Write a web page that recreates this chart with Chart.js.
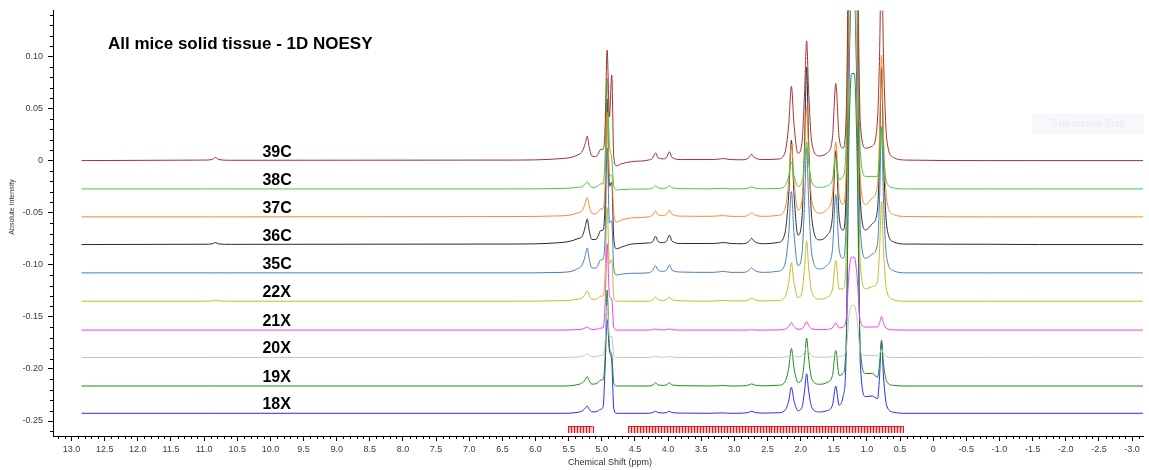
<!DOCTYPE html>
<html>
<head>
<meta charset="utf-8">
<title>All mice solid tissue - 1D NOESY</title>
<script src="https://cdn.jsdelivr.net/npm/chart.js@4.4.0/dist/chart.umd.min.js"></script>
<style>
    html, body { margin: 0; padding: 0; background: #fff; }
    #wrap { width: 1149px; height: 470px; }
</style>
</head>
<body>
<div id="wrap"><canvas id="nmrChart" width="1149" height="470"></canvas></div>
<script>
/** chemical shift grid (ppm), shared by all spectra */
var shifts = [12.85, 11.00, 10.88, 10.83, 10.78, 10.60, 6.40, 5.60, 5.36, 5.29,
    5.25, 5.22, 5.19, 5.15, 5.09, 5.05, 5.02, 4.98, 4.95, 4.92,
    4.885, 4.85, 4.82, 4.78, 4.70, 4.55, 4.30, 4.23, 4.19, 4.15,
    4.07, 4.02, 3.98, 3.94, 3.80, 3.40, 3.22, 3.18, 3.05, 2.86,
    2.78, 2.74, 2.70, 2.55, 2.34, 2.24, 2.18, 2.14, 2.10, 2.04,
    1.98, 1.94, 1.91, 1.88, 1.83, 1.72, 1.60, 1.52, 1.47, 1.42,
    1.36, 1.31, 1.27, 1.23, 1.19, 1.15, 1.10, 1.02, 0.92, 0.84,
    0.81, 0.78, 0.75, 0.70, 0.60, 0.40, -0.80, -1.60, -3.17]

var sampleNames = ['39C', '38C', '37C', '36C', '35C', '22X', '21X', '20X', '19X', '18X']
/** stacked baseline of each spectrum */
var baseOffsets = [0, -0.0272, -0.054, -0.0806, -0.1078, -0.135, -0.1627, -0.189, -0.2164, -0.2426]
var lineColors = ['#a33232', '#3fcf3f', '#ff8a2a', '#2b2b2b', '#4a7fc0', '#c2bd2a', '#f03cf0', '#c4c4c4', '#1a8f1a', '#2a2af5']

/** intensities above own baseline */
var s39C = [0, 0.0005, 0.001, 0.003, 0.001, 0.0003, 0.0005, 0.002, 0.0055, 0.0095,
    0.0165, 0.0236, 0.013, 0.0045, 0.0039, 0.0072, 0.0105, 0.011, 0.032, 0.106,
    0.042, 0.082, 0.004, -0.005, -0.003, -0.001, 0.0005, 0.0026, 0.0075, 0.0026,
    0.0017, 0.0034, 0.0085, 0.003, 0.001, 0.001, 0.0015, 0.002, 0.001, 0.0008,
    0.003, 0.006, 0.003, 0.001, 0.0015, 0.0071, 0.0343, 0.0714, 0.0343, 0.007,
    0.0173, 0.0667, 0.115, 0.0667, 0.0161, 0.0045, 0.0074, 0.0222, 0.074, 0.0222,
    0.012, 0.051, 0.24, 0.3, 0.3, 0.225, 0.036, 0.012, 0.014, 0.04,
    0.1, 0.2, 0.1, 0.02, 0.003, 0.0005, 0, 0, 0]
var s38C = [0, 0, 0, 0, 0, 0, 0, 0.0005, 0.0015, 0.0025,
    0.0049, 0.007, 0.0039, 0.0014, 0.0018, 0.0033, 0.0048, 0.005, 0.032, 0.106,
    0.042, 0.03, 0.003, -0.001, -0.0006, -0.0002, 0, 0.001, 0.003, 0.001,
    0.0006, 0.0012, 0.003, 0.001, 0.0003, 0, 0.0005, 0.0005, 0, 0.0002,
    0.001, 0.002, 0.001, 0.0002, 0.0005, 0.0026, 0.0125, 0.026, 0.0125, 0.0025,
    0.0068, 0.0261, 0.045, 0.0261, 0.0063, 0.0015, 0.003, 0.009, 0.03, 0.009,
    0.012, 0.051, 0.24, 0.3, 0.3, 0.225, 0.036, 0.012, 0.012, 0.012,
    0.03, 0.06, 0.03, 0.006, 0.001, 0, 0, 0, 0]
var s37C = [0, 0, 0, 0, 0, 0, 0.0003, 0.001, 0.0038, 0.0065,
    0.013, 0.0185, 0.0102, 0.0037, 0.0028, 0.0052, 0.0076, 0.008, 0.03, 0.1,
    0.04, 0.04, 0.004, -0.005, -0.003, -0.001, 0, 0.0019, 0.0055, 0.0019,
    0.0012, 0.0026, 0.0065, 0.0023, 0.0007, 0.0005, 0.001, 0.0012, 0.0005, 0.0004,
    0.002, 0.004, 0.002, 0.0005, 0.0014, 0.007, 0.0336, 0.07, 0.0336, 0.0065,
    0.0158, 0.0609, 0.105, 0.0609, 0.0147, 0.0036, 0.0072, 0.0216, 0.072, 0.0216,
    0.012, 0.051, 0.24, 0.3, 0.3, 0.225, 0.036, 0.012, 0.018, 0.031,
    0.0775, 0.155, 0.0775, 0.0155, 0.0023, 0.0003, 0, 0, 0]
var s36C = [0, 0.0003, 0.0006, 0.002, 0.0006, 0.0002, 0.0005, 0.002, 0.0057, 0.0086,
    0.0172, 0.0245, 0.0135, 0.0049, 0.0049, 0.0091, 0.0133, 0.014, 0.042, 0.14,
    0.056, 0.06, 0.006, -0.004, -0.0024, 0.0005, 0.0015, 0.0028, 0.008, 0.0028,
    0.0018, 0.0036, 0.009, 0.0032, 0.001, 0.001, 0.0015, 0.002, 0.001, 0.0008,
    0.003, 0.006, 0.003, 0.0008, 0.002, 0.01, 0.048, 0.1, 0.048, 0.009,
    0.0255, 0.0986, 0.17, 0.0986, 0.0238, 0.0045, 0.009, 0.027, 0.09, 0.027,
    0.014, 0.06, 0.28, 0.35, 0.35, 0.26, 0.042, 0.014, 0.02, 0.034,
    0.085, 0.17, 0.085, 0.017, 0.0026, 0.0005, 0.0003, 0, 0]
var s35C = [0, 0, 0, 0, 0, 0, 0, 0.0005, 0.0041, 0.0084,
    0.0168, 0.024, 0.0132, 0.0048, 0.0046, 0.0085, 0.0124, 0.013, 0.036, 0.12,
    0.048, 0.05, 0.005, -0.002, -0.0012, -0.0004, 0, 0.0025, 0.007, 0.0025,
    0.0015, 0.003, 0.0075, 0.0026, 0.0008, 0.0005, 0.001, 0.0015, 0.0005, 0.0005,
    0.0025, 0.005, 0.0025, 0.0005, 0.0016, 0.0078, 0.0374, 0.078, 0.0374, 0.007,
    0.018, 0.0696, 0.12, 0.0696, 0.0168, 0.0038, 0.0075, 0.0225, 0.075, 0.0225,
    0.014, 0.06, 0.28, 0.35, 0.35, 0.26, 0.042, 0.014, 0.018, 0.028,
    0.07, 0.14, 0.07, 0.014, 0.0021, 0, 0, 0, 0]
var s22X = [0, 0, 0.0003, 0.001, 0.0003, 0, 0, 0.0005, 0.002, 0.0035,
    0.007, 0.01, 0.0055, 0.002, 0.0018, 0.0033, 0.0048, 0.005, 0.027, 0.09,
    0.036, 0.04, 0.004, 0, 0, 0, 0, 0.0014, 0.004, 0.0014,
    0.0008, 0.0016, 0.004, 0.0014, 0.0004, 0, 0.0005, 0.0008, 0.0003, 0.0003,
    0.0015, 0.003, 0.0015, 0.0003, 0.0007, 0.0037, 0.0178, 0.037, 0.0178, 0.0035,
    0.0087, 0.0336, 0.058, 0.0336, 0.0081, 0.002, 0.0039, 0.0117, 0.039, 0.0117,
    0.012, 0.051, 0.24, 0.3, 0.3, 0.225, 0.036, 0.012, 0.014, 0.019,
    0.048, 0.096, 0.048, 0.0096, 0.0014, 0, 0, 0, 0]
var s21X = [0, 0, 0, 0, 0, 0, 0, 0, 0.0005, 0.001,
    0.0021, 0.003, 0.0017, 0.0006, 0.0007, 0.0013, 0.0019, 0.002, 0.025, 0.083,
    0.033, 0.03, 0.003, 0, 0, 0, 0, 0.0004, 0.001, 0.0004,
    0.0002, 0.0004, 0.001, 0.0004, 0, 0, 0, 0, 0, 0,
    0, 0.0005, 0, 0, 0.0002, 0.0007, 0.0034, 0.007, 0.0034, 0.0008,
    0.0012, 0.0046, 0.008, 0.0046, 0.0011, 0.0004, 0.0007, 0.0021, 0.007, 0.0021,
    0.0028, 0.012, 0.056, 0.07, 0.07, 0.052, 0.0084, 0.0028, 0.003, 0.003,
    0.0065, 0.013, 0.0065, 0.0013, 0.0002, 0, 0, 0, 0]
var s20X = [0, 0, 0, 0, 0, 0, 0, 0, 0.0005, 0.0012,
    0.0025, 0.0035, 0.0019, 0.0007, 0.0007, 0.0013, 0.0019, 0.002, 0.015, 0.05,
    0.02, 0.02, 0.002, 0, 0, 0, 0, 0.0004, 0.001, 0.0004,
    0.0002, 0.0004, 0.001, 0.0004, 0, 0, 0, 0, 0, 0,
    0, 0, 0, 0, 0, 0.0003, 0.0014, 0.003, 0.0014, 0.0006,
    0.0015, 0.0058, 0.01, 0.0058, 0.0014, 0.0002, 0.0003, 0.0009, 0.003, 0.0009,
    0.002, 0.0085, 0.04, 0.05, 0.05, 0.037, 0.006, 0.002, 0.002, 0.0016,
    0.004, 0.008, 0.004, 0.0008, 0, 0, 0, 0, 0]
var s19X = [0, 0, 0, 0, 0, 0, 0, 0, 0.0014, 0.0032,
    0.0063, 0.009, 0.005, 0.0018, 0.0021, 0.0039, 0.0057, 0.006, 0.028, 0.092,
    0.037, 0.03, 0.003, 0, 0, 0, 0, 0.001, 0.003, 0.001,
    0.0006, 0.0012, 0.003, 0.001, 0.0003, 0, 0.0003, 0.0005, 0, 0.0002,
    0.001, 0.002, 0.001, 0.0002, 0.0007, 0.0036, 0.0173, 0.036, 0.0173, 0.0034,
    0.0069, 0.0267, 0.046, 0.0267, 0.0064, 0.0017, 0.0034, 0.0102, 0.034, 0.0102,
    0.012, 0.051, 0.24, 0.3, 0.3, 0.225, 0.036, 0.012, 0.012, 0.0084,
    0.021, 0.042, 0.021, 0.0042, 0.0006, 0, 0, 0, 0]
var s18X = [0, 0, 0, 0, 0, 0, 0, 0, 0.001, 0.0025,
    0.0049, 0.007, 0.0039, 0.0014, 0.0014, 0.0026, 0.0038, 0.006, 0.045, 0.09,
    0.06, 0.05, 0.005, 0, 0, 0, 0, 0.0007, 0.002, 0.0007,
    0.0004, 0.0008, 0.002, 0.0007, 0.0002, 0, 0.0003, 0.0004, 0, 0.0002,
    0.001, 0.002, 0.001, 0.0002, 0.0005, 0.0025, 0.012, 0.025, 0.012, 0.0025,
    0.0057, 0.022, 0.038, 0.022, 0.0053, 0.0013, 0.0026, 0.0078, 0.026, 0.0078,
    0.016, 0.068, 0.32, 0.4, 0.4, 0.3, 0.048, 0.016, 0.0166, 0.014,
    0.035, 0.07, 0.035, 0.007, 0.001, 0, 0, 0, 0]
var intensities = [s39C, s38C, s37C, s36C, s35C, s22X, s21X, s20X, s19X, s18X]

/** axis ranges and the bucket (binning) regions drawn in red */
var ppmRange = [-3.165, 13.28]
var intensityRange = [-0.2644, 0.1442]
var bucketRanges = [[5.51, 5.14], [4.60, 0.46]]
var bucketWidth = 0.045
var chartTitle = 'All mice solid tissue - 1D NOESY'

var FONT = '"Liberation Sans", Arial, sans-serif'

var noesy = {
    chart: null,
    init: function () {
        noesy.funcs.createChart(noesy.funcs.buildDatasets())
    },
    funcs: {
        buildDatasets: function () {
            var datasets = []
            intensities.forEach(function (values, i) {
                var points = []
                values.forEach(function (v, j) {
                    points.push({ x: shifts[j], y: v + baseOffsets[i] })
                })
                datasets.push({
                    label: sampleNames[i],
                    data: points,
                    borderColor: lineColors[i],
                    backgroundColor: lineColors[i],
                    borderWidth: 1,
                    pointRadius: 0,
                    fill: false,
                    cubicInterpolationMode: 'monotone'
                })
            })
            return datasets
        },
        fmtPpm: function (v) {
            return Math.abs(v) < 1e-9 ? '0' : v.toFixed(1)
        },
        fmtIntensity: function (v) {
            return Math.abs(v) < 1e-9 ? '0' : v.toFixed(2)
        },
        // minor ticks, titles, sample names, buckets
        decorPlugin: {
            id: 'decor',
            afterDraw: function (chart) {
                var ctx = chart.ctx
                var x = chart.scales.x
                var y = chart.scales.y
                var area = chart.chartArea
                ctx.save()
                ctx.strokeStyle = '#000'
                ctx.lineWidth = 1
                ctx.beginPath()
                for (var k = Math.ceil(ppmRange[0] * 10); k <= Math.floor(ppmRange[1] * 10); k++) {
                    if (k % 5 === 0) continue
                    var px = Math.round(x.getPixelForValue(k / 10)) + 0.5
                    ctx.moveTo(px, area.bottom)
                    ctx.lineTo(px, area.bottom + 3)
                }
                for (var m = Math.ceil(intensityRange[0] * 100); m <= Math.floor(intensityRange[1] * 100); m++) {
                    if (m % 5 === 0) continue
                    var py = Math.round(y.getPixelForValue(m / 100)) + 0.5
                    ctx.moveTo(area.left, py)
                    ctx.lineTo(area.left - 3, py)
                }
                ctx.stroke()

                // red bucket marks
                var top = area.bottom - 10
                var h = 7
                bucketRanges.forEach(function (r) {
                    var x1 = x.getPixelForValue(r[0])
                    var x2 = x.getPixelForValue(r[1])
                    ctx.fillStyle = 'rgba(255,90,90,0.35)'
                    ctx.fillRect(x1, top, x2 - x1, h)
                    ctx.strokeStyle = '#f01414'
                    ctx.beginPath()
                    ctx.moveTo(x1, top + 0.5)
                    ctx.lineTo(x2, top + 0.5)
                    var n = Math.round((r[0] - r[1]) / bucketWidth)
                    for (var b = 0; b <= n; b++) {
                        var bx = Math.round(x.getPixelForValue(r[0] - b * (r[0] - r[1]) / n)) + 0.5
                        ctx.moveTo(bx, top)
                        ctx.lineTo(bx, top + h)
                    }
                    ctx.stroke()
                })

                // axis titles
                ctx.fillStyle = '#333'
                ctx.font = '9px ' + FONT
                ctx.textAlign = 'center'
                ctx.textBaseline = 'middle'
                ctx.fillText('Chemical Shift (ppm)', 610, 463)
                ctx.save()
                ctx.translate(12, 207)
                ctx.rotate(-Math.PI / 2)
                ctx.font = '7px ' + FONT
                ctx.fillText('Absolute Intensity', 0, 0)
                ctx.restore()

                // chart title
                ctx.fillStyle = '#000'
                ctx.textAlign = 'left'
                ctx.textBaseline = 'alphabetic'
                ctx.font = 'bold 17px ' + FONT
                ctx.fillText(chartTitle, 108, 49)

                // sample names above each baseline
                ctx.font = 'bold 16px ' + FONT
                sampleNames.forEach(function (name, i) {
                    ctx.fillText(name, x.getPixelForValue(10.12), y.getPixelForValue(baseOffsets[i]) - 4)
                })

                // faint screen-snip badge
                ctx.fillStyle = '#f7f8fc'
                ctx.fillRect(1032, 114, 112, 20)
                ctx.fillStyle = '#e8eaf1'
                ctx.font = '10px ' + FONT
                ctx.textAlign = 'center'
                ctx.textBaseline = 'middle'
                ctx.fillText('Full-screen Snip', 1089, 124)
                ctx.restore()
            }
        },
        createChart: function (datasets) {
            var ctx = document.getElementById('nmrChart').getContext('2d')
            noesy.chart = new Chart(ctx, {
                type: 'line',
                data: { datasets: datasets },
                options: {
                    responsive: false,
                    animation: false,
                    events: [],
                    layout: { padding: { left: 0, right: 6, top: 10, bottom: 0 } },
                    plugins: { legend: { display: false }, tooltip: { enabled: false } },
                    scales: {
                        x: {
                            type: 'linear',
                            reverse: true,
                            min: ppmRange[0],
                            max: ppmRange[1],
                            afterFit: function (s) { s.height = 34 },
                            border: { display: true, color: '#000', width: 1 },
                            grid: { display: true, drawOnChartArea: false, drawTicks: true, tickLength: 5, color: '#000' },
                            ticks: {
                                stepSize: 0.5, includeBounds: false, autoSkip: false, maxRotation: 0, padding: 3,
                                color: '#3a3a48', font: { family: FONT, size: 9 },
                                callback: function (v) { return noesy.funcs.fmtPpm(v) }
                            }
                        },
                        y: {
                            min: intensityRange[0],
                            max: intensityRange[1],
                            afterFit: function (s) { s.width = 53 },
                            border: { display: true, color: '#000', width: 1 },
                            grid: { display: true, drawOnChartArea: false, drawTicks: true, tickLength: 5, color: '#000' },
                            ticks: {
                                stepSize: 0.05, includeBounds: false, padding: 5,
                                color: '#3a3a48', font: { family: FONT, size: 9 },
                                callback: function (v) { return noesy.funcs.fmtIntensity(v) }
                            }
                        }
                    }
                },
                plugins: [noesy.funcs.decorPlugin]
            })
        }
    }
}
noesy.init()
</script>
</body>
</html>
